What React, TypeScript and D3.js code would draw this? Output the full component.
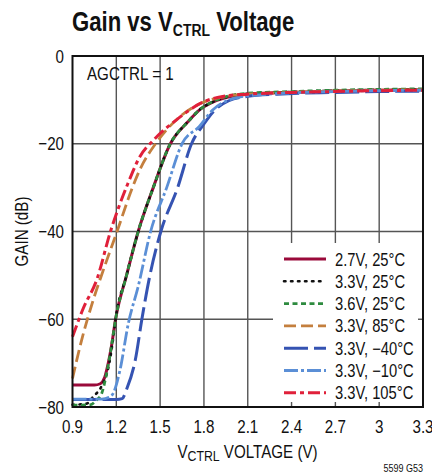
import * as d3 from "d3";
import type { ReactNode } from "react";

// gain (dB) vs V_CTRL (V)
const v27_25: [number, number][] = [
  [0.9, -75], [1.05, -75], [1.09, -74.7], [1.12, -73.3], [1.134, -71.6], [1.165, -66.5],
  [1.195, -60], [1.27, -50], [1.35, -40], [1.453, -30], [1.57, -20], [1.69, -15],
  [1.78, -12], [1.86, -10.5], [2.0, -9.1], [2.1, -8.7], [2.4, -8.3], [2.7, -8.0],
  [3.0, -7.8], [3.3, -7.7],
];
const v33_25: [number, number][] = [
  [0.9, -79.5], [1.0, -79.2], [1.04, -77.7], [1.1, -75.2], [1.152, -70], [1.178, -64.5],
  [1.195, -60], [1.27, -50], [1.35, -40], [1.453, -30], [1.57, -20], [1.69, -15],
  [1.78, -12], [1.86, -10.5], [2.0, -9.0], [2.1, -8.6], [2.4, -8.2], [2.7, -7.9],
  [3.0, -7.7], [3.3, -7.6],
];
const v36_25: [number, number][] = [
  [0.9, -79.6], [1.02, -79.5], [1.066, -78.4], [1.1, -76.9], [1.134, -72.3], [1.165, -66.5],
  [1.195, -60], [1.27, -50], [1.35, -40], [1.453, -30], [1.57, -20], [1.69, -15],
  [1.78, -12], [1.86, -10.4], [2.0, -8.9], [2.1, -8.5], [2.4, -8.1], [2.7, -7.8],
  [3.0, -7.6], [3.3, -7.5],
];
const v33_85: [number, number][] = [
  [0.9, -73.5], [0.963, -64.7], [1.042, -55.6], [1.111, -48.8], [1.205, -40], [1.31, -30],
  [1.36, -26], [1.48, -19.5], [1.636, -13.8], [1.8, -10.5], [1.95, -9.2], [2.1, -8.7],
  [2.4, -8.3], [2.7, -8.0], [3.0, -7.8], [3.3, -7.7],
];
const v33_m40: [number, number][] = [
  [0.9, -78.3], [1.2, -78.3], [1.24, -78.1], [1.27, -76], [1.33, -69.3], [1.375, -60],
  [1.43, -50], [1.505, -40], [1.62, -30], [1.715, -20], [1.8, -15.5], [1.87, -12.5],
  [1.97, -10.2], [2.1, -9.2], [2.3, -8.7], [2.7, -8.3], [3.0, -8.1], [3.3, -8.0],
];
const v33_m10: [number, number][] = [
  [0.9, -78.2], [1.1, -78.2], [1.15, -77.8], [1.18, -76.8], [1.225, -71.6], [1.282, -61],
  [1.35, -52.5], [1.435, -40], [1.545, -30], [1.65, -20], [1.77, -16], [1.86, -12.3],
  [1.95, -10.3], [2.05, -9.3], [2.2, -8.8], [2.4, -8.4], [2.7, -8.1], [3.0, -7.9],
  [3.3, -7.8],
];
const v33_105: [number, number][] = [
  [0.9, -64], [0.974, -57.5], [1.066, -51], [1.16, -40], [1.28, -29], [1.36, -23],
  [1.46, -19], [1.61, -14.6], [1.8, -10.4], [1.95, -9.1], [2.1, -8.7], [2.4, -8.3],
  [2.7, -8.1], [3.0, -7.9], [3.3, -7.8],
];

const xTicks = [0.9, 1.2, 1.5, 1.8, 2.1, 2.4, 2.7, 3.0, 3.3];
const xTickLabels = ["0.9", "1.2", "1.5", "1.8", "2.1", "2.4", "2.7", "3", "3.3"];
const yTicks = [0, -20, -40, -60, -80];
const yTickLabels = ["0", "\u221220", "\u221240", "\u221260", "\u221280"];
const legendLabels = [
  "2.7V, 25°C", "3.3V, 25°C", "3.6V, 25°C", "3.3V, 85°C",
  "3.3V, \u221240°C", "3.3V, \u221210°C", "3.3V, 105°C",
];

const SERIES = [
  { data: v27_25, color: "#9a0a3a", dash: "", width: 3 },
  { data: v33_25, color: "#111111", dash: "1.5 5.5", width: 2.6, cap: "round" },
  { data: v36_25, color: "#2e8b3f", dash: "5 3.5", width: 2.8 },
  { data: v33_85, color: "#c47f3e", dash: "12 5", width: 2.8 },
  { data: v33_m40, color: "#3553b2", dash: "24 6", width: 3 },
  { data: v33_m10, color: "#5b8fd6", dash: "14 3 3 3", width: 2.8 },
  { data: v33_105, color: "#e0203a", dash: "12 4 4 4", width: 3 },
];

// no narrow font installed, so squeeze Liberation Sans like Arial Narrow
const FONT = "'Liberation Sans', Arial, sans-serif";
const SQUEEZE = 0.82;
const PLOT = { left: 72.5, right: 423, top: 56, bottom: 407 };
const LEGEND = { left: 273, top: 243 };

function NText(props: {
  x: number;
  y: number;
  size: number;
  anchor?: string;
  weight?: string;
  rotate?: number;
  children: ReactNode;
}) {
  const { x, y, size, anchor = "start", weight = "normal", rotate = 0, children } = props;
  return (
    <text
      transform={`translate(${x},${y}) rotate(${rotate}) scale(${SQUEEZE},1)`}
      fontSize={size}
      fontWeight={weight}
      textAnchor={anchor}
      fill="#111"
    >
      {children}
    </text>
  );
}

export default function App() {
  const x = d3.scaleLinear().domain([0.9, 3.3]).range([PLOT.left, PLOT.right]);
  const y = d3.scaleLinear().domain([-80, 0]).range([PLOT.bottom, PLOT.top]);
  const line = d3
    .line<[number, number]>()
    .x((d) => x(d[0]))
    .y((d) => y(d[1]))
    .curve(d3.curveMonotoneX);

  const gridColor = "#555";

  return (
    <svg
      width={432}
      height={474}
      style={{ position: "absolute", left: 0, top: 0, background: "#fff" }}
      fontFamily={FONT}
    >
      {/* title */}
      <NText x={72} y={31} size={27} weight="bold">
        Gain vs V
        <tspan fontSize={17} dy={5}>CTRL</tspan>
        <tspan dy={-5}> Voltage</tspan>
      </NText>

      {/* grid */}
      {xTicks.slice(1, -1).map((t) => (
        <line
          key={"gx" + t}
          x1={x(t)}
          x2={x(t)}
          y1={PLOT.top}
          y2={x(t) > LEGEND.left ? LEGEND.top : PLOT.bottom}
          stroke={gridColor}
          strokeWidth={1.4}
        />
      ))}
      {yTicks.slice(1, -1).map((t) => (
        <line
          key={"gy" + t}
          x1={PLOT.left}
          x2={y(t) > LEGEND.top ? LEGEND.left : PLOT.right}
          y1={y(t)}
          y2={y(t)}
          stroke={gridColor}
          strokeWidth={1.4}
        />
      ))}
      {/* inner ticks under the legend */}
      {xTicks.filter((t) => x(t) > LEGEND.left && t < 3.3).map((t) => (
        <line key={"tx" + t} x1={x(t)} x2={x(t)} y1={PLOT.bottom} y2={PLOT.bottom - 5}
          stroke={gridColor} strokeWidth={1.4} />
      ))}
      {yTicks.filter((t) => y(t) > LEGEND.top && t > -80).map((t) => (
        <line key={"ty" + t} x1={PLOT.right} x2={PLOT.right - 5} y1={y(t)} y2={y(t)}
          stroke={gridColor} strokeWidth={1.4} />
      ))}

      {/* curves */}
      <g fill="none">
        {SERIES.map((s, i) => (
          <path
            key={i}
            d={line(s.data) ?? ""}
            stroke={s.color}
            strokeWidth={s.width}
            strokeDasharray={s.dash || undefined}
            strokeLinecap={(s.cap as any) || "butt"}
          />
        ))}
      </g>

      {/* frame */}
      <rect
        x={PLOT.left}
        y={PLOT.top}
        width={PLOT.right - PLOT.left}
        height={PLOT.bottom - PLOT.top}
        fill="none"
        stroke="#111"
        strokeWidth={2}
      />

      <NText x={87} y={80} size={18.5}>AGCTRL = 1</NText>

      {/* legend */}
      {legendLabels.map((lab, i) => {
        const s = SERIES[i];
        const ly = 259 + i * 22.3;
        return (
          <g key={lab}>
            <line
              x1={284}
              x2={326}
              y1={ly}
              y2={ly}
              stroke={s.color}
              strokeWidth={s.width}
              strokeDasharray={s.dash || undefined}
              strokeLinecap={(s.cap as any) || "butt"}
            />
            <NText x={335} y={ly + 6.5} size={18}>{lab}</NText>
          </g>
        );
      })}

      {/* tick labels */}
      {xTicks.map((t, i) => (
        <NText key={"lx" + t} x={x(t)} y={433} size={18.5} anchor="middle">
          {xTickLabels[i]}
        </NText>
      ))}
      {yTicks.map((t, i) => (
        <NText key={"ly" + t} x={64} y={y(t) + 6.5} size={18.5} anchor="end">
          {yTickLabels[i]}
        </NText>
      ))}

      {/* axis titles */}
      <NText x={247.5} y={458} size={18.5} anchor="middle">
        V<tspan fontSize={15} dy={3}>CTRL</tspan>
        <tspan dy={-3}> VOLTAGE (V)</tspan>
      </NText>
      <NText x={28} y={(PLOT.top + PLOT.bottom) / 2} size={18.5} anchor="middle" rotate={-90}>
        GAIN (dB)
      </NText>

      <NText x={423} y={472} size={11} anchor="end">5599 G53</NText>
    </svg>
  );
}
